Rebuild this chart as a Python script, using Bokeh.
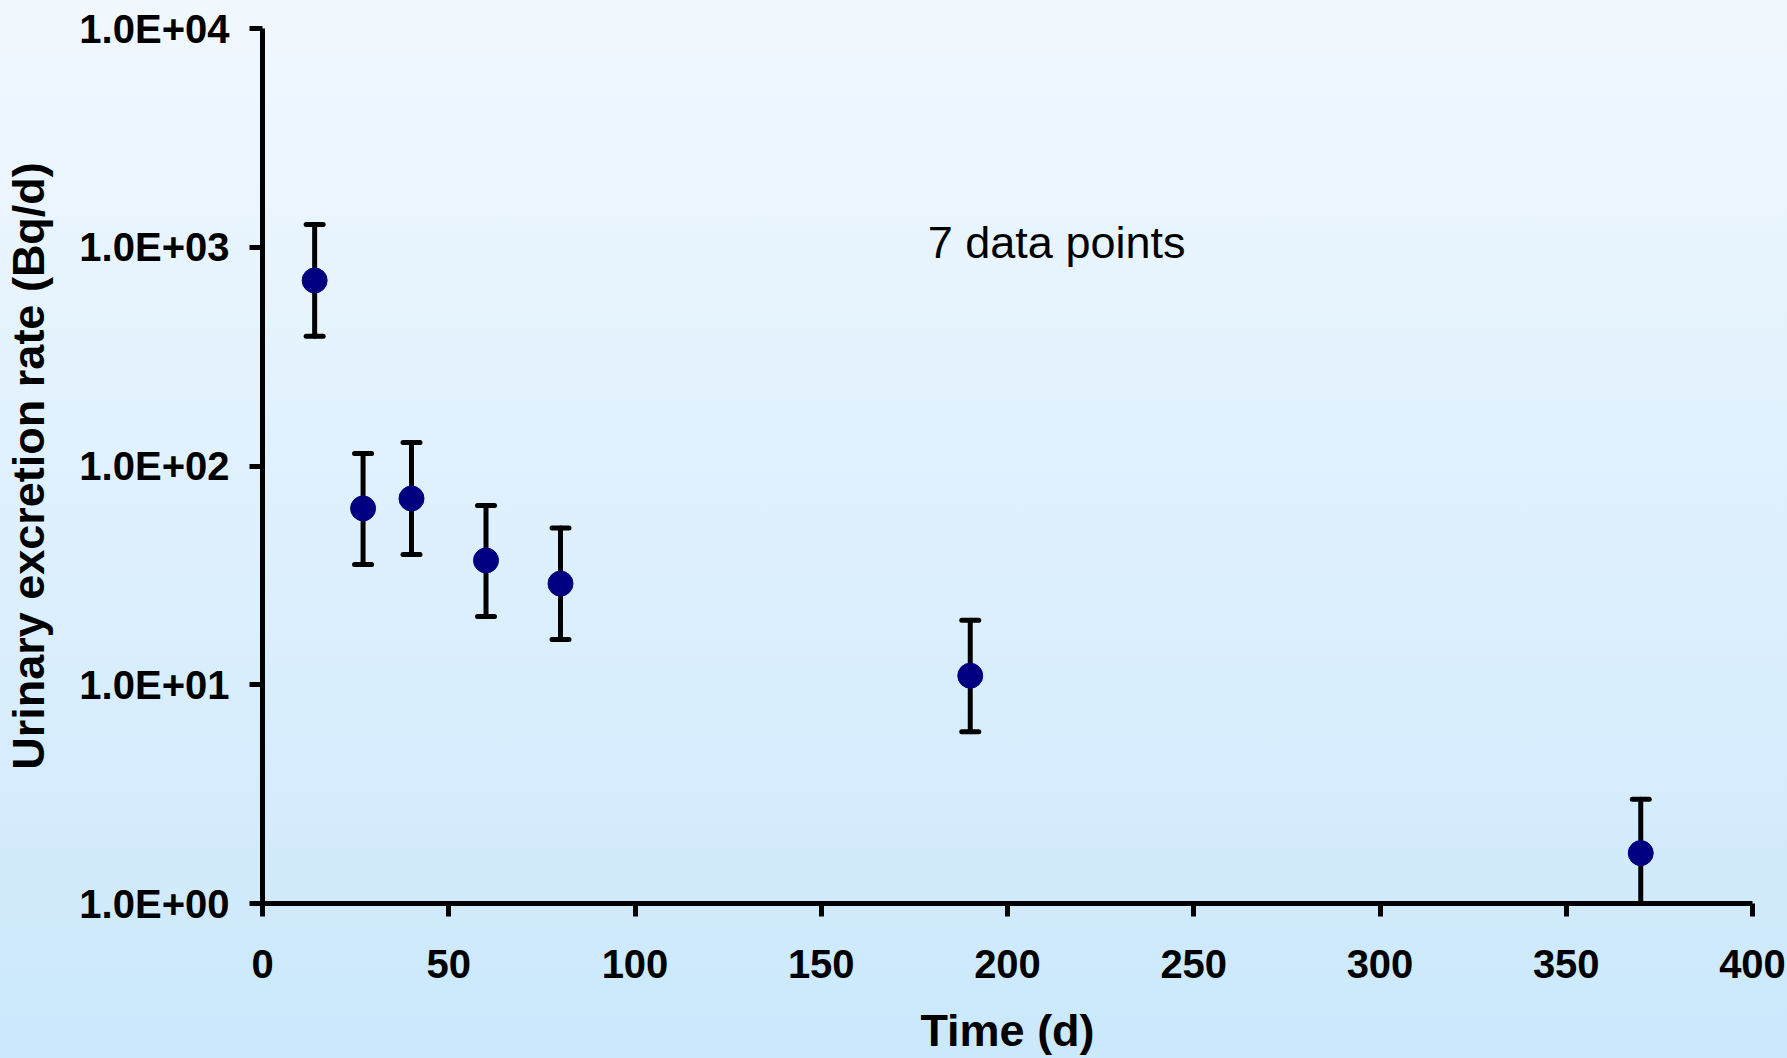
from bokeh.plotting import figure
from bokeh.models import Range1d, Whisker, ColumnDataSource, FixedTicker, Label, TeeHead
from bokeh.embed import file_html
from bokeh.resources import INLINE

# ---- data ----
time_d = [14, 27, 40, 60, 80, 190, 370]
rate = [705, 64, 71, 37, 29, 11, 1.7]
err_upper = [1270, 114, 128, 66, 52, 19.7, 3.0]
err_lower = [392, 35.5, 39.4, 20.5, 16.1, 6.1, 0.95]

x_ticks = [0, 50, 100, 150, 200, 250, 300, 350, 400]
y_ticks = [1, 10, 100, 1000, 10000]
y_tick_labels = ["1.0E+00", "1.0E+01", "1.0E+02", "1.0E+03", "1.0E+04"]

annotation_text = "7 data points"
x_title = "Time (d)"
y_title = "Urinary excretion rate (Bq/d)"

FONT = "Liberation Sans"

src = ColumnDataSource(dict(t=time_d, r=rate, up=err_upper, lo=err_lower))

p = figure(width=1787, height=1058, output_backend="svg", toolbar_location=None,
           y_axis_type="log", x_range=Range1d(0, 400), y_range=Range1d(1, 10000),
           min_border_left=260, min_border_top=28, min_border_right=35, min_border_bottom=155)

p.styles = {"background": "linear-gradient(to bottom, #F1F8FE, #CBE8FC)"}
p.background_fill_alpha = 0
p.border_fill_alpha = 0
p.outline_line_color = None
p.grid.visible = False

w = Whisker(source=src, base="t", upper="up", lower="lo", level="underlay",
            line_color="black", line_width=5, line_cap="round",
            upper_head=TeeHead(size=17, line_width=5, line_color="black", line_cap="round"),
            lower_head=TeeHead(size=17, line_width=5, line_color="black", line_cap="round"))
p.add_layout(w)

p.scatter("t", "r", source=src, size=25, color="#000080")

p.xaxis.ticker = FixedTicker(ticks=x_ticks)
p.yaxis.ticker = FixedTicker(ticks=y_ticks)
p.yaxis.major_label_overrides = {v: lab for v, lab in zip(y_ticks, y_tick_labels)}

for ax in (p.xaxis[0], p.yaxis[0]):
    ax.axis_line_width = 5
    ax.axis_line_color = "black"
    ax.major_tick_line_width = 5
    ax.major_tick_line_color = "black"
    ax.major_tick_in = 0
    ax.major_tick_out = 13
    ax.minor_tick_line_color = None
    ax.major_label_text_font = FONT
    ax.major_label_text_font_style = "bold"
    ax.major_label_text_font_size = "40px"
    ax.major_label_text_color = "black"
    ax.axis_label_text_font = FONT
    ax.axis_label_text_font_style = "bold"
    ax.axis_label_text_font_size = "45px"
    ax.axis_label_text_color = "black"

p.xaxis.axis_label = x_title
p.yaxis.axis_label = y_title
p.xaxis.major_label_standoff = 33
p.xaxis.axis_label_standoff = 24
p.yaxis.major_label_standoff = 20
p.yaxis.axis_label_standoff = 22

p.add_layout(Label(x=178.6, y=1050, text=annotation_text, text_font=FONT,
                   text_font_size="45px", text_color="black", text_baseline="alphabetic"))

open("out.html", "w").write(file_html(p, INLINE))
